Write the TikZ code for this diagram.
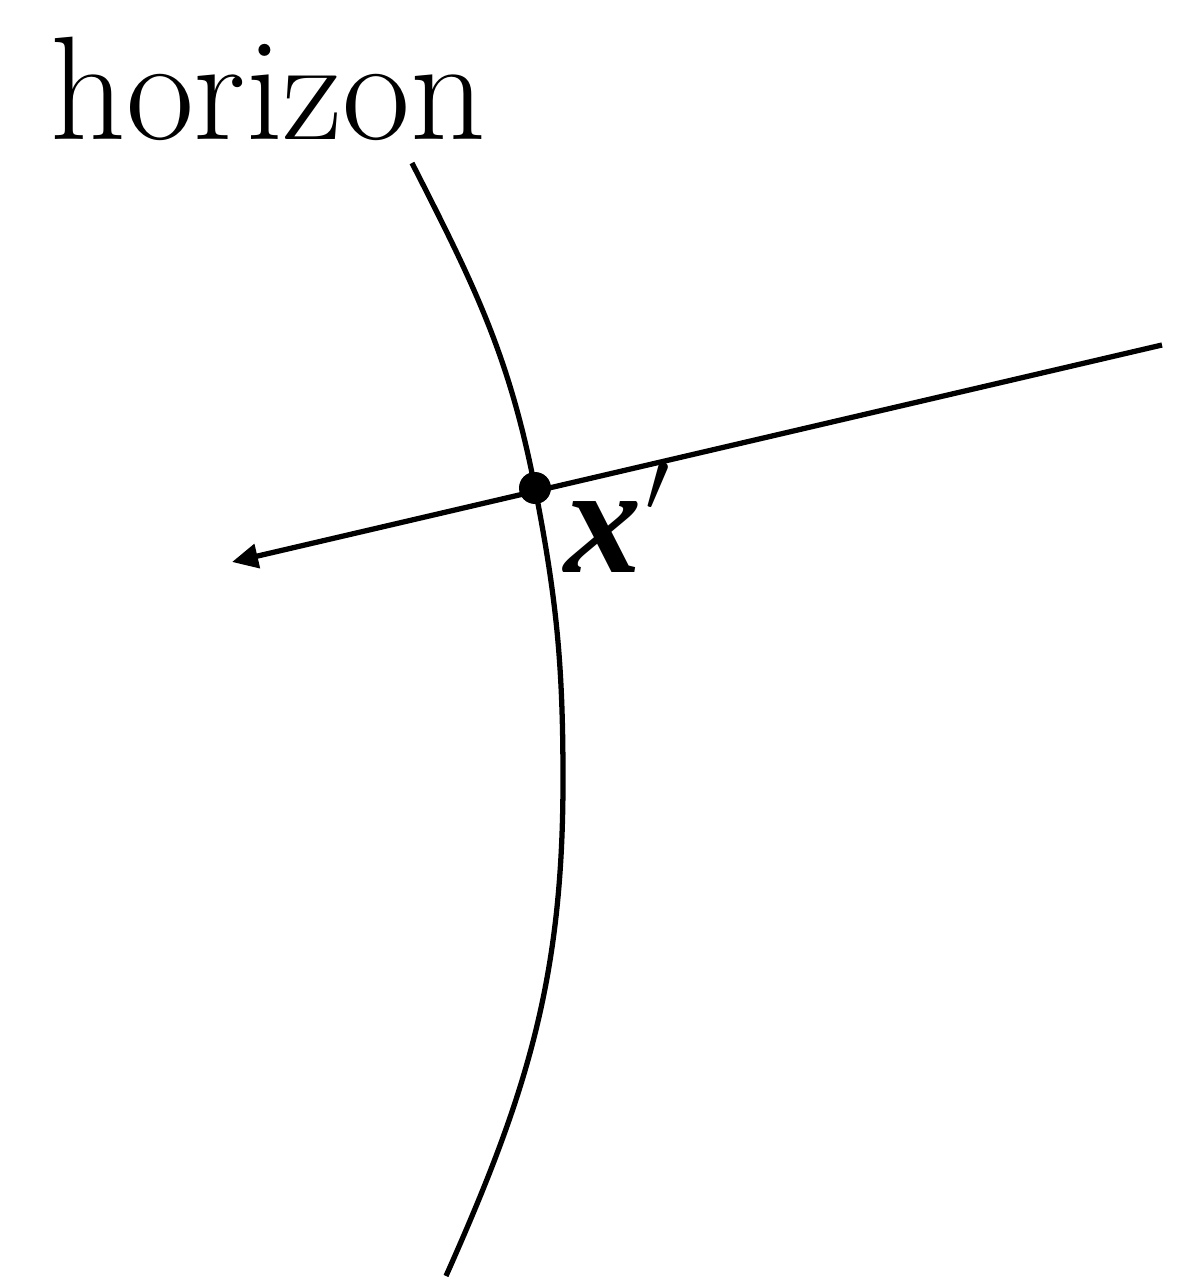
\documentclass[tikz,border=0pt]{standalone}
\usepackage{fontspec}
\newfontfamily\primefont{Liberation Serif}
\usepackage{tikz}
\usetikzlibrary{arrows.meta,positioning}

\begin{document}
\begin{tikzpicture}[
line width=1.5pt,
dot/.style={circle,fill,inner sep=0pt,minimum size=3.2mm},
ray/.style={-{Triangle[length=2.6mm,width=2.4mm]}},
lbl/.style={inner sep=0pt}
]
\useasboundingbox (0,0) rectangle (11.99,12.86);

% the crossing point
\node[dot] (xp) at (5.35,7.98) {};
\node[lbl,anchor=base west] (xlab) at (5.62,7.13)
{\fontsize{44}{48}\selectfont\primefont\bfseries\itshape x\kern0.02em
\fontsize{24}{24}\selectfont\raisebox{0.62cm}{$\prime$}};

\node[lbl,anchor=base west] (hz) at (0.48,11.46)
{\fontsize{42}{46}\selectfont horizon};

% horizon curve
\coordinate (top) at (4.12,11.23);
\coordinate (bulge) at (5.63,5.06);
\coordinate (bot) at (4.46,0.10);
\draw (top) to[out=-63,in=101] (xp.center)
to[out=-79,in=90] (bulge)
to[out=-90,in=66] (bot);

% the ray
\coordinate (far) at (11.62,9.41);
\coordinate (tip) at (2.32,7.24);
\draw[ray] (far) -- (tip);

\end{tikzpicture}
\end{document}
